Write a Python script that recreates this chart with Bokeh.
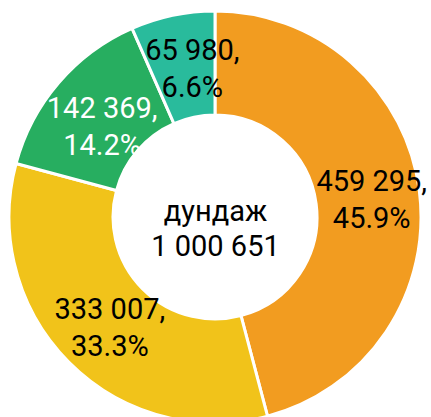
import math
from bokeh.plotting import figure
from bokeh.models import Range1d, ColumnDataSource
from bokeh.core.properties import value
from bokeh.embed import file_html
from bokeh.resources import INLINE

# ---- data ----
categories = ["A", "B", "C", "D"]
values = [459295, 333007, 142369, 65980]
center_title = "дундаж"

# ---- styles ----
colors = ["#F29C20", "#F1C31A", "#27AE60", "#29BB9C"]
label_colors = ["black", "black", "white", "black"]
label_nudge_x = [4, 4, 4, 9]
label_nudge_y = [-2, -2, -10, -2]

total = sum(values)

def fmt(v):
    return f"{v:,}".replace(",", " ")

W, H = 431, 417
cx, cy = 214.5, 200.5
r_out, r_in = 206, 102
r_lab = 154
half_gap = 18.5
FS = "29px"

starts, ends, lx, ly, line1, line2 = [], [], [], [], [], []
cum = 0.0
for i, v in enumerate(values):
    f0 = cum / total
    cum += v
    f1 = cum / total
    a0 = math.pi / 2 - 2 * math.pi * f0
    a1 = math.pi / 2 - 2 * math.pi * f1
    starts.append(a0)
    ends.append(a1)
    am = (a0 + a1) / 2
    lx.append(cx + r_lab * math.cos(am) + label_nudge_x[i])
    ly.append(cy + r_lab * math.sin(am) + label_nudge_y[i])
    line1.append(f"{fmt(v)},")
    line2.append(f"{v / total * 100:.1f}%")

src = ColumnDataSource(dict(cat=categories, start=starts, end=ends,
                            color=colors, lx=lx, ly=ly,
                            ly1=[y + half_gap for y in ly],
                            ly2=[y - half_gap for y in ly],
                            line1=line1, line2=line2, lcolor=label_colors))

p = figure(width=W, height=H, x_range=Range1d(0, W), y_range=Range1d(0, H),
           output_backend="svg", toolbar_location=None, min_border=0)
p.axis.visible = False
p.grid.visible = False
p.outline_line_color = None
p.background_fill_color = "white"
p.border_fill_color = "white"

p.annular_wedge(x=cx, y=cy, inner_radius=r_in, outer_radius=r_out,
                start_angle="start", end_angle="end", direction="clock",
                fill_color="color", line_color="white", line_width=3,
                source=src)

for col in ("line1", "line2"):
    p.text(x="lx", y="ly1" if col == "line1" else "ly2", text=col, source=src,
           text_color="lcolor", text_font=value("Roboto"), text_font_size=FS,
           text_align="center", text_baseline="middle")

p.text(x=[cx + 0.5], y=[cy + 6.5], text=[center_title], text_color="black",
       text_font=value("Roboto"), text_font_size=FS,
       text_align="center", text_baseline="alphabetic")
p.text(x=[cx + 0.5], y=[cy - 28.5], text=[fmt(total)], text_color="black",
       text_font=value("Roboto"), text_font_size=FS,
       text_align="center", text_baseline="alphabetic")

open("out.html", "w").write(file_html(p, INLINE))
